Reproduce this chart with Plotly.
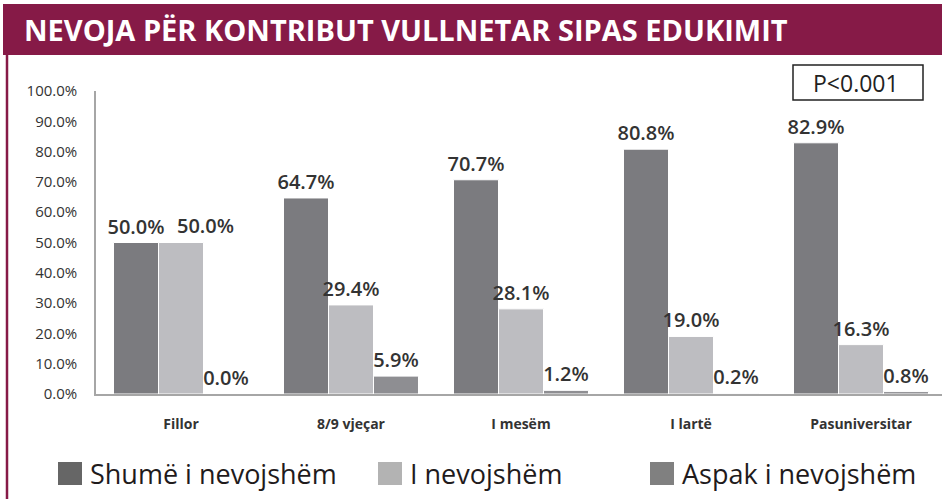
import plotly.graph_objects as go

categories = ["Fillor", "8/9 vjeçar", "I mesëm", "I lartë", "Pasuniversitar"]
series_names = ["Shumë i nevojshëm", "I nevojshëm", "Aspak i nevojshëm"]
shume = [0.500, 0.647, 0.707, 0.808, 0.829]
nevojshem = [0.500, 0.294, 0.281, 0.190, 0.163]
aspak = [0.000, 0.059, 0.012, 0.002, 0.008]
y_ticks = [0.0, 0.1, 0.2, 0.3, 0.4, 0.5, 0.6, 0.7, 0.8, 0.9, 1.0]

W, H = 942, 499
L, R, T, B = 96, 0, 91, 105
PW = W - L - R
PH = H - T - B


def px(x):
    return (x - L) / PW


def py(y):
    return (H - B - y) / PH


bar_colors = ["#7b7b7f", "#bdbdc1", "#8e8e92"]
legend_colors = ["#666666", "#b3b3b3", "#808080"]
series_vals = [shume, nevojshem, aspak]
label_font = dict(family="Open Sans", size=20, color="#333333", weight=600)

fig = go.Figure()
for i, (name, vals, col) in enumerate(zip(series_names, series_vals, bar_colors)):
    # the second "Fillor" label is moved aside (as in the reference) to avoid overlap
    positions = ["outside"] * len(vals)
    if i == 1:
        positions[0] = "none"
    fig.add_trace(go.Bar(
        x=categories, y=vals, name=name,
        marker=dict(color=col, line=dict(color="white", width=1)),
        texttemplate="%{y:.1%}", textposition=positions,
        textfont=label_font,
        cliponaxis=False, showlegend=False,
    ))

shapes = [
    # title bar
    dict(type="rect", xref="paper", yref="paper", x0=px(3), x1=px(942), y0=py(55), y1=py(4),
         fillcolor="#861a47", line=dict(width=0), layer="below"),
    # left border
    dict(type="line", xref="paper", yref="paper", x0=px(7), x1=px(7), y0=py(55), y1=py(499),
         line=dict(color="#861a47", width=2.5)),
    # p-value box
    dict(type="rect", xref="paper", yref="paper", x0=px(793), x1=px(923), y0=py(100), y1=py(65),
         fillcolor="white", line=dict(color="#222222", width=1.5)),
]

annotations = [
    dict(text="<b>NEVOJA PËR KONTRIBUT VULLNETAR SIPAS EDUKIMIT</b>", xref="paper", yref="paper",
         x=px(22), y=py(30), xanchor="left", yanchor="middle", showarrow=False,
         font=dict(family="Liberation Sans Narrow, Open Sans", size=29, color="white")),
    dict(text="P<0.001", xref="paper", yref="paper", x=px(856), y=py(83), xanchor="center",
         yanchor="middle", showarrow=False,
         font=dict(family="Open Sans", size=23, color="#222222")),
    # moved label of the second Fillor bar
    dict(text=f"{nevojshem[0]:.1%}", xref="x", yref="y", x=categories[0], y=nevojshem[0],
         xanchor="center", yanchor="bottom", xshift=24, yshift=2, showarrow=False,
         font=label_font),
]

legend_sq_x = [58, 378, 650]
for name, col, sx in zip(series_names, legend_colors, legend_sq_x):
    shapes.append(dict(type="rect", xref="paper", yref="paper", x0=px(sx), x1=px(sx + 24),
                       y0=py(485), y1=py(462), fillcolor=col, line=dict(width=0)))
    annotations.append(dict(text=name, xref="paper", yref="paper", x=px(sx + 30), y=py(473),
                            xanchor="left", yanchor="middle", showarrow=False,
                            font=dict(family="Open Sans", size=27, color="#1f1b1c", weight=500)))

fig.update_layout(
    width=W, height=H,
    margin=dict(l=L, r=R, t=T, b=B),
    paper_bgcolor="white", plot_bgcolor="white",
    barmode="group", bargap=0.206, bargroupgap=0.0,
    shapes=shapes, annotations=annotations,
    xaxis=dict(
        range=[-0.5, -0.5 + PW / 170.0],
        showline=True, linecolor="#a6a6a6", linewidth=1.5,
        showgrid=False, ticks="", zeroline=False,
        tickfont=dict(family="Open Sans", size=14, color="#333333", weight="bold"),
        ticklabelstandoff=16,
    ),
    yaxis=dict(
        range=[0, 1], tickvals=y_ticks, tickformat=".1%",
        showline=True, linecolor="#a6a6a6", linewidth=1.5,
        showgrid=False, ticks="", zeroline=False,
        tickfont=dict(family="Open Sans", size=15, color="#333333"),
        ticklabelstandoff=14,
    ),
    font=dict(family="Open Sans"),
)
fig.update_traces(constraintext="none")

fig.write_html(
    "out.html",
    config={"displayModeBar": False},
    post_script="document.body.style.margin='0';document.body.style.overflow='hidden';",
)
